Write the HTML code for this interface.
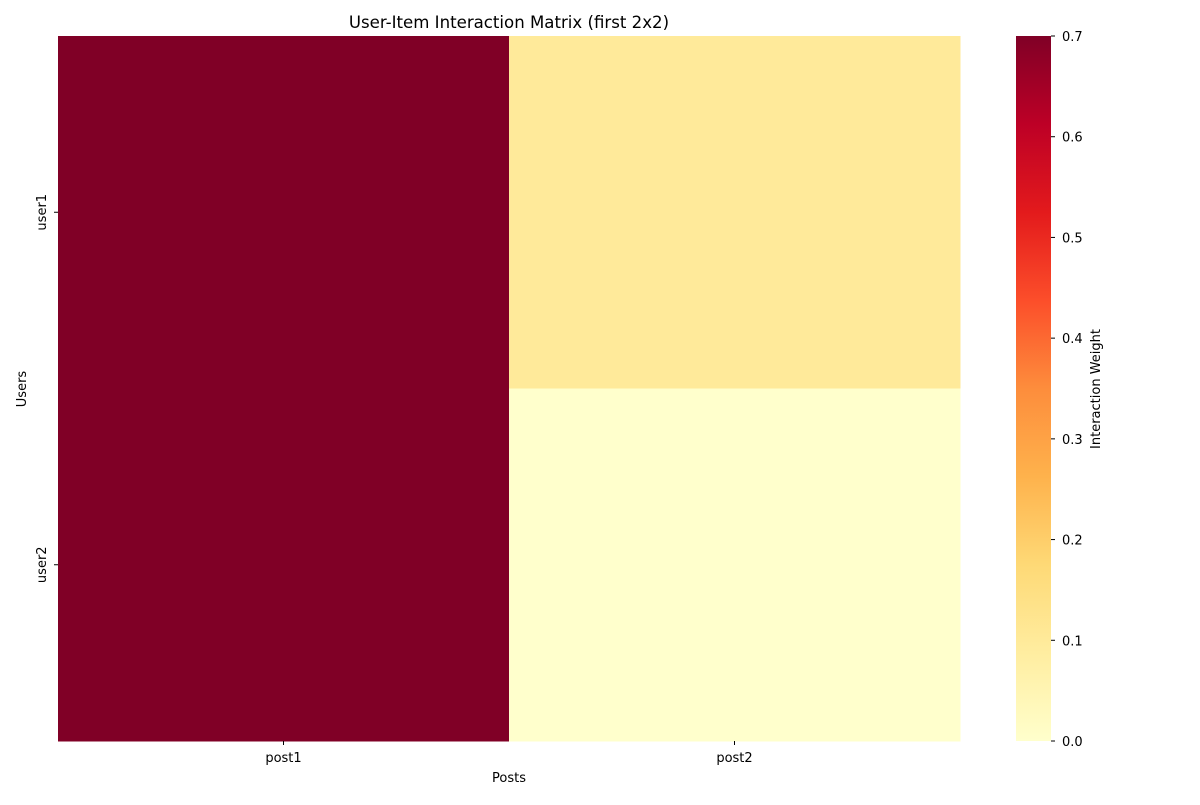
<!DOCTYPE html>
<html><head><meta charset="utf-8">
<style>
body{margin:0;background:#fff;font-family:"Liberation Sans","DejaVu Sans",sans-serif;}
</style></head>
<body>
<svg id="chart" width="1200" height="800" xmlns="http://www.w3.org/2000/svg" font-family="'DejaVu Sans','Liberation Sans',sans-serif">
<defs>
<linearGradient id="cbgrad" x1="0" y1="1" x2="0" y2="0">
<stop offset="0" stop-color="#ffffcc"/><stop offset="0.125" stop-color="#ffeda0"/>
<stop offset="0.25" stop-color="#fed976"/><stop offset="0.375" stop-color="#feb24c"/>
<stop offset="0.5" stop-color="#fd8d3c"/><stop offset="0.625" stop-color="#fc4e2a"/>
<stop offset="0.75" stop-color="#e31a1c"/><stop offset="0.875" stop-color="#bd0026"/>
<stop offset="1" stop-color="#800026"/>
</linearGradient>
</defs>
<text x="509" y="28" text-anchor="middle" font-size="16.6">User-Item Interaction Matrix (first 2x2)</text>
<g id="cells"></g>
<g id="axes"></g>
<rect x="1016" y="36" width="35" height="705" fill="url(#cbgrad)"/>
<g id="cbticks"></g>
<text x="509" y="782" text-anchor="middle" font-size="13">Posts</text>
<text transform="translate(26,389) rotate(-90)" text-anchor="middle" font-size="13">Users</text>
<text transform="translate(1100,389) rotate(-90)" text-anchor="middle" font-size="13">Interaction Weight</text>
</svg>
<script>
const users = ["user1","user2"];
const posts = ["post1","post2"];
const valuesUser1 = [0.7, 0.1];
const valuesUser2 = [0.7, 0.0];
const cbTicks = [0,0.1,0.2,0.3,0.4,0.5,0.6,0.7];
const vmin = 0, vmax = 0.7;

const NS="http://www.w3.org/2000/svg";
const plotLeft=58,plotRight=960,plotTop=36,plotBottom=741;
const cw=(plotRight-plotLeft)/posts.length, ch=(plotBottom-plotTop)/users.length;
const xPos=i=>plotLeft+i*cw, yPos=j=>plotTop+j*ch;
const stops=["#ffffcc","#ffeda0","#fed976","#feb24c","#fd8d3c","#fc4e2a","#e31a1c","#bd0026","#800026"];
function hex(h){return [1,3,5].map(i=>parseInt(h.substr(i,2),16));}
function color(v){
  let t=Math.max(0,Math.min(1,(v-vmin)/(vmax-vmin)))*(stops.length-1);
  let i=Math.min(Math.floor(t),stops.length-2),f=t-i;
  let a=hex(stops[i]),b=hex(stops[i+1]);
  return "rgb("+a.map((c,k)=>Math.round(c+(b[k]-c)*f)).join(",")+")";
}
const cellsG=document.getElementById("cells");
const rows=[valuesUser1,valuesUser2];
rows.forEach((row,j)=>row.forEach((v,i)=>{
  const r=document.createElementNS(NS,"rect");
  r.setAttribute("x",xPos(i));r.setAttribute("y",yPos(j));
  r.setAttribute("width",cw+0.5);r.setAttribute("height",ch+0.5);
  r.setAttribute("fill",color(v));
  
  
  cellsG.appendChild(r);
}));
const ax=document.getElementById("axes");
posts.forEach((p,i)=>{
  const x=xPos(i)+cw/2;
  const l=document.createElementNS(NS,"line");
  l.setAttribute("x1",x);l.setAttribute("x2",x);l.setAttribute("y1",plotBottom);l.setAttribute("y2",plotBottom+4);l.setAttribute("stroke","#000");
  ax.appendChild(l);
  const t=document.createElementNS(NS,"text");
  t.setAttribute("x",x);t.setAttribute("y",plotBottom+21);t.setAttribute("text-anchor","middle");t.setAttribute("font-size","13");
  t.textContent=p;
  
  
  ax.appendChild(t);
});
users.forEach((u,j)=>{
  const y=yPos(j)+ch/2;
  const l=document.createElementNS(NS,"line");
  l.setAttribute("x1",plotLeft-4);l.setAttribute("x2",plotLeft);l.setAttribute("y1",y);l.setAttribute("y2",y);l.setAttribute("stroke","#000");
  ax.appendChild(l);
  const t=document.createElementNS(NS,"text");
  t.setAttribute("transform","translate("+(plotLeft-12)+","+y+") rotate(-90)");
  t.setAttribute("text-anchor","middle");t.setAttribute("font-size","13");
  t.textContent=u;
  
  
  ax.appendChild(t);
});
const cb=document.getElementById("cbticks");
cbTicks.forEach(v=>{
  const y=plotBottom-(v-vmin)/(vmax-vmin)*(plotBottom-plotTop);
  const l=document.createElementNS(NS,"line");
  l.setAttribute("x1",1051);l.setAttribute("x2",1055);l.setAttribute("y1",y);l.setAttribute("y2",y);l.setAttribute("stroke","#000");
  cb.appendChild(l);
  const t=document.createElementNS(NS,"text");
  t.setAttribute("x",1062);t.setAttribute("y",y+5);t.setAttribute("font-size","13");
  t.textContent=v.toFixed(1);
  
  
  cb.appendChild(t);
});
</script>
</body></html>
